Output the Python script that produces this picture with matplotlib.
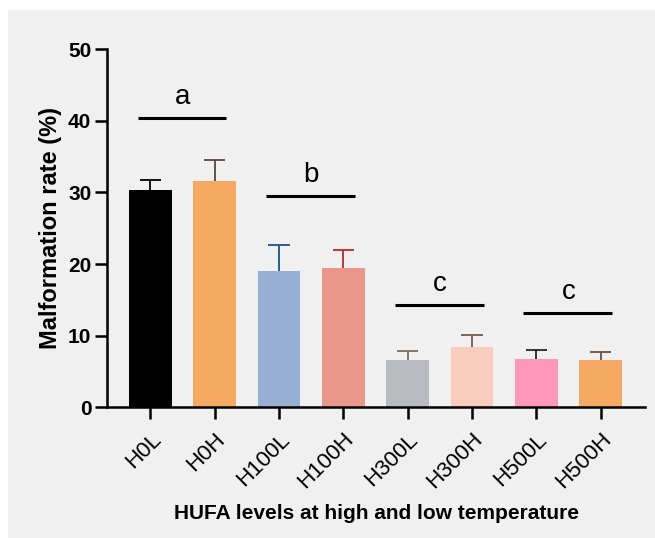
import matplotlib

matplotlib.use("Agg")
import matplotlib.pyplot as plt
from matplotlib.patches import Rectangle

plt.rcParams["font.family"] = ["Liberation Sans", "DejaVu Sans"]

groups = ["H0L", "H0H", "H100L", "H100H", "H300L", "H300H", "H500L", "H500H"]
means = [30.4, 31.6, 19.0, 19.4, 6.6, 8.4, 6.8, 6.6]
errors = [1.3, 2.9, 3.7, 2.5, 1.3, 1.75, 1.25, 1.1]
bar_colors = ["#000000", "#F5A962", "#96AFD3", "#EA968A",
              "#B8BCC0", "#F9CDBD", "#FE98BA", "#F5A962"]
err_colors = ["#000000", "#5C4636", "#1F4E8C", "#C0262D",
              "#7A6A60", "#7B5A48", "#222222", "#6B5040"]

# significance groups: (first bar, last bar, line height, letter)
sig_groups = [(0, 1, 40.4, "a"), (2, 3, 29.45, "b"), (4, 5, 14.3, "c"), (6, 7, 13.2, "c")]

fig = plt.figure(figsize=(6.55, 5.38), dpi=100)
fig.patch.set_facecolor("white")
fig.patches.append(Rectangle((8 / 655, 0), 1, 1 - 10 / 538, transform=fig.transFigure,
                             facecolor="#F0F0F0", edgecolor="none", zorder=-10))

ax = fig.add_axes([0.1638, 0.2429, 0.8209, 0.6658])
ax.set_facecolor("none")

x = list(range(len(groups)))
ax.bar(x, means, width=0.66, color=bar_colors, zorder=2)
# upper error bars only, no cap at the bar top
for xi, m, e, c in zip(x, means, errors, err_colors):
    ax.vlines(xi, m, m + e, color=c, lw=1.3, zorder=3)
    ax.hlines(m + e, xi - 0.165, xi + 0.165, color=c, lw=1.3, zorder=3)

for i0, i1, h, letter in sig_groups:
    ax.plot([i0 - 0.2, i1 + 0.18], [h, h], color="black", lw=2.2, solid_capstyle="butt")
    ax.text((i0 + i1) / 2, h + 1.1, letter, ha="center", va="bottom", fontsize=20)

ax.set_xlim(-0.67, 7.69)
ax.set_ylim(0, 50)
ax.set_yticks([0, 10, 20, 30, 40, 50])
ax.set_xticks(x)
ax.set_xticklabels(groups, rotation=45, ha="right", rotation_mode="anchor", fontsize=16)
for lbl in ax.get_yticklabels():
    lbl.set_fontweight("bold")
    lbl.set_fontsize(15)

for side in ["top", "right"]:
    ax.spines[side].set_visible(False)
for side in ["left", "bottom"]:
    ax.spines[side].set_linewidth(1.8)
ax.tick_params(axis="both", length=8.5, width=1.8, direction="out", pad=3)
ax.tick_params(axis="x", pad=7)

ax.set_ylabel("Malformation rate (%)", fontsize=17, fontweight="bold", labelpad=4)
ax.set_xlabel("HUFA levels at high and low temperature", fontsize=15, fontweight="bold",
              labelpad=8)

fig.savefig("out.png", dpi=100, facecolor=fig.get_facecolor())
